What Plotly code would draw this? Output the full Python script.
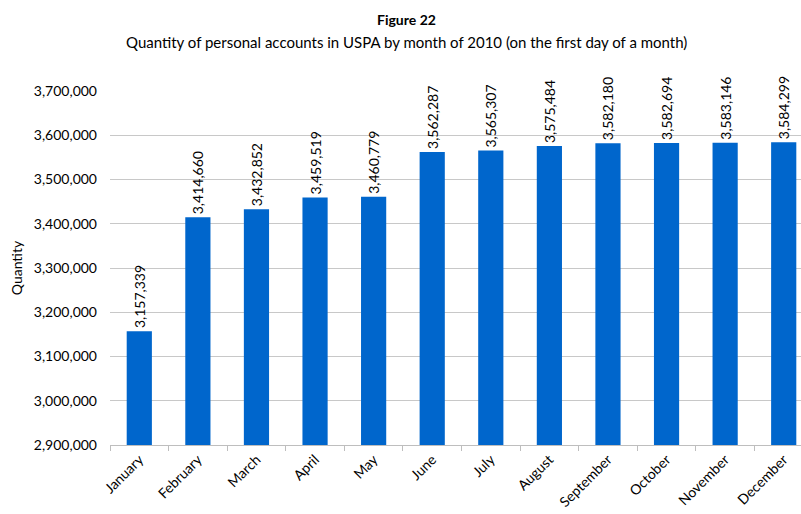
import plotly.graph_objects as go

months = ["January", "February", "March", "April", "May", "June", "July",
          "August", "September", "October", "November", "December"]
accounts = [3157339, 3414660, 3432852, 3459519, 3460779, 3562287, 3565307,
            3575484, 3582180, 3582694, 3583146, 3584299]
y_ticks = [2900000, 3000000, 3100000, 3200000, 3300000, 3400000, 3500000,
           3600000, 3700000]

FONT = "Lato, Carlito, Calibri, sans-serif"
BAR = "#0066CC"
SIZE = 14

fig = go.Figure(go.Bar(
    x=months,
    y=accounts,
    width=0.43,
    marker=dict(color=BAR, line=dict(width=0)),
    text=[f"{v:,}" for v in accounts],
    textposition="outside",
    textangle=-90,
    constraintext="none",
    textfont=dict(family=FONT, size=SIZE, color="#000000"),
    cliponaxis=False,
))

# title lines placed in pixels relative to the plot area
plot_top, plot_bottom = 91, 69
plot_h = 514 - plot_top - plot_bottom
plot_w = 801 - 110
cx = (406 - 110) / plot_w

fig.update_layout(
    width=801, height=514,
    margin=dict(l=110, r=0, t=plot_top, b=plot_bottom),
    paper_bgcolor="white", plot_bgcolor="white",
    font=dict(family=FONT, size=SIZE, color="#000000"),
    showlegend=False,
    annotations=[
        dict(text="<b>Figure 22</b>", x=cx, xref="paper", xanchor="center",
             y=1 + (plot_top - 19) / plot_h, yref="paper", yanchor="middle",
             showarrow=False, font=dict(size=SIZE)),
        dict(text="Quantity of personal accounts in USPA by month of 2010 (on the first day of a month)",
             x=cx, xref="paper", xanchor="center",
             y=1 + (plot_top - 42) / plot_h, yref="paper", yanchor="middle",
             showarrow=False, font=dict(size=15)),
    ],
)

fig.update_xaxes(
    type="category",
    range=[-0.5, 11.295],
    tickangle=-45,
    tickson="boundaries",
    ticks="outside", ticklen=5, tickcolor="#BEBEBE", tickwidth=1,
    showline=True, linecolor="#BEBEBE", linewidth=1,
    showgrid=False,
    tickfont=dict(size=SIZE),
)
fig.update_yaxes(
    range=[2900000, 3700000],
    tickvals=y_ticks,
    tickformat=",d",
    showgrid=True, gridcolor="#C8C8C8", gridwidth=1,
    zeroline=False, showline=False,
    ticks="", ticklabelstandoff=12,
    tickfont=dict(size=SIZE),
    title=dict(text="Quantity", font=dict(size=SIZE), standoff=7),
)

fig.write_html("out.html")
